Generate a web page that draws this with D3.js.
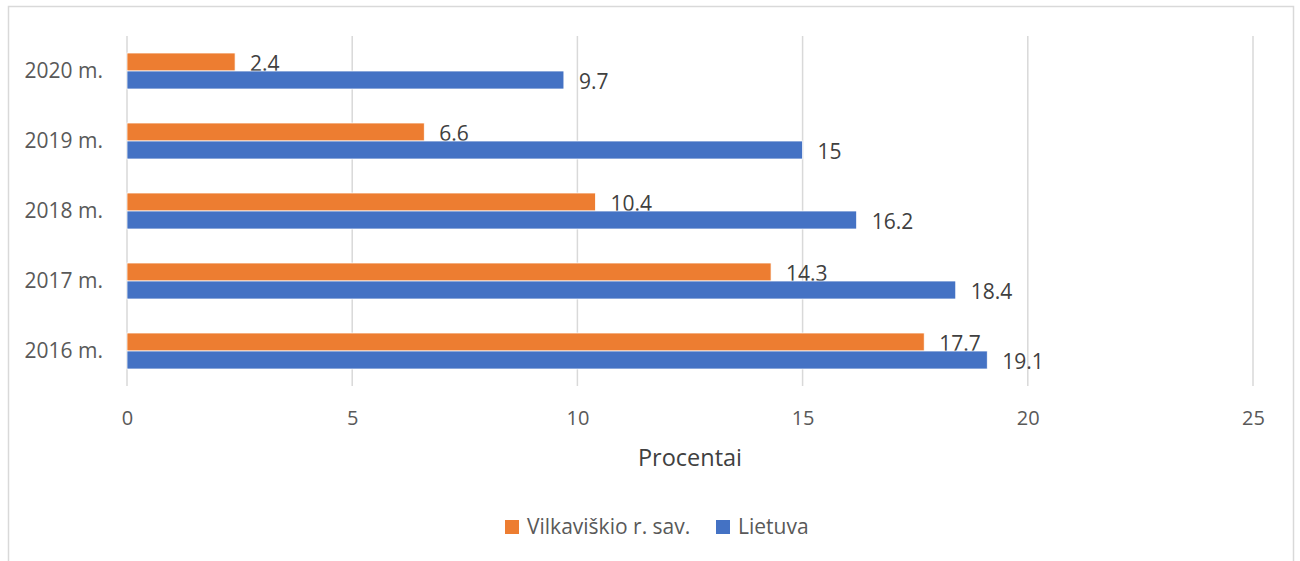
<!DOCTYPE html>
<html>
<head>
<meta charset="utf-8">
<script src="https://cdn.jsdelivr.net/npm/d3@7"></script>
<style>
  html, body { margin: 0; padding: 0; background: #fff; }
  svg { display: block; font-family: "Open Sans", sans-serif; }
</style>
</head>
<body>
<svg id="chart" width="1300" height="561"></svg>
<script>
const categories = ["2020 m.", "2019 m.", "2018 m.", "2017 m.", "2016 m."];
const seriesNames = ["Vilkaviškio r. sav.", "Lietuva"];
const vilkaviskio = [2.4, 6.6, 10.4, 14.3, 17.7];
const lietuva = [9.7, 15, 16.2, 18.4, 19.1];
const xTicks = [0, 5, 10, 15, 20, 25];
const axisTitle = "Procentai";
const colors = ["#ED7D31", "#4472C4"];

(function () {
const svg = d3.select("#chart");

// outer frame
svg.append("rect")
  .attr("x", 8.5).attr("y", 6.5)
  .attr("width", 1285).attr("height", 600)
  .attr("fill", "#fff").attr("stroke", "#d9d9d9").attr("stroke-width", 1.5);

const pLeft = 127, pRight = 1253, pTop = 36, pBottom = 386;

const x = d3.scaleLinear().domain([0, 25]).range([pLeft, pRight]);
const p = 34 / 70;
const y0 = d3.scaleBand().domain(categories).range([pTop, pBottom]).paddingInner(p).paddingOuter(p / 2);
const y1 = d3.scaleBand().domain(seriesNames).range([0, y0.bandwidth()]);

// gridlines
svg.append("g").selectAll("line").data(xTicks).join("line")
  .attr("x1", d => x(d)).attr("x2", d => x(d))
  .attr("y1", pTop).attr("y2", pBottom)
  .attr("stroke", "#d9d9d9").attr("stroke-width", 1.5);

// x axis tick labels
const xAxis = d3.axisBottom(x).tickValues(xTicks).tickSize(0).tickPadding(0).tickFormat(d3.format("d"));
const gx = svg.append("g").attr("transform", `translate(0,${pBottom})`).call(xAxis);
gx.select(".domain").remove();
gx.selectAll("text")
  .attr("y", 32).attr("dy", "0.35em")
  .attr("fill", "#595959").attr("font-size", 20)
  .attr("font-family", "Open Sans, sans-serif");

// y axis labels
const yAxis = d3.axisLeft(y0).tickSize(0).tickPadding(24);
const gy = svg.append("g").attr("transform", `translate(${pLeft},0)`).call(yAxis);
gy.select(".domain").remove();
gy.selectAll("text")
  .attr("fill", "#595959").attr("font-size", 21)
  .attr("font-family", "Open Sans, sans-serif");

const seriesData = [vilkaviskio, lietuva];

seriesData.forEach((vals, si) => {
  const name = seriesNames[si];
  const g = svg.append("g");
  g.selectAll("rect").data(vals).join("rect")
    .attr("x", x(0))
    .attr("y", (d, i) => y0(categories[i]) + y1(name))
    .attr("width", d => x(d) - x(0))
    .attr("height", y1.bandwidth())
    .attr("fill", colors[si])
    .attr("stroke", "#ffffff").attr("stroke-width", 0.75);
  g.selectAll("text").data(vals).join("text")
    .attr("x", d => x(d) + 15)
    .attr("y", (d, i) => y0(categories[i]) + y1(name) + y1.bandwidth() / 2 + 1.5)
    .attr("dy", "0.35em")
    .attr("fill", "#404040").attr("font-size", 21)
    .text(d => d);
});

// axis title
svg.append("text")
  .attr("x", (pLeft + pRight) / 2).attr("y", 458)
  .attr("dy", "0.35em")
  .attr("text-anchor", "middle")
  .attr("fill", "#404040").attr("font-size", 23.5)
  .text(axisTitle);

// legend
const legendItems = [
  { name: seriesNames[0], color: colors[0], x: 505 },
  { name: seriesNames[1], color: colors[1], x: 716 }
];
const lg = svg.append("g");
legendItems.forEach(it => {
  lg.append("rect").attr("x", it.x).attr("y", 520).attr("width", 14).attr("height", 14).attr("fill", it.color);
  lg.append("text").attr("x", it.x + 22).attr("y", 527).attr("dy", "0.35em")
    .attr("fill", "#595959").attr("font-size", 21).text(it.name);
});
})();
</script>
</body>
</html>
